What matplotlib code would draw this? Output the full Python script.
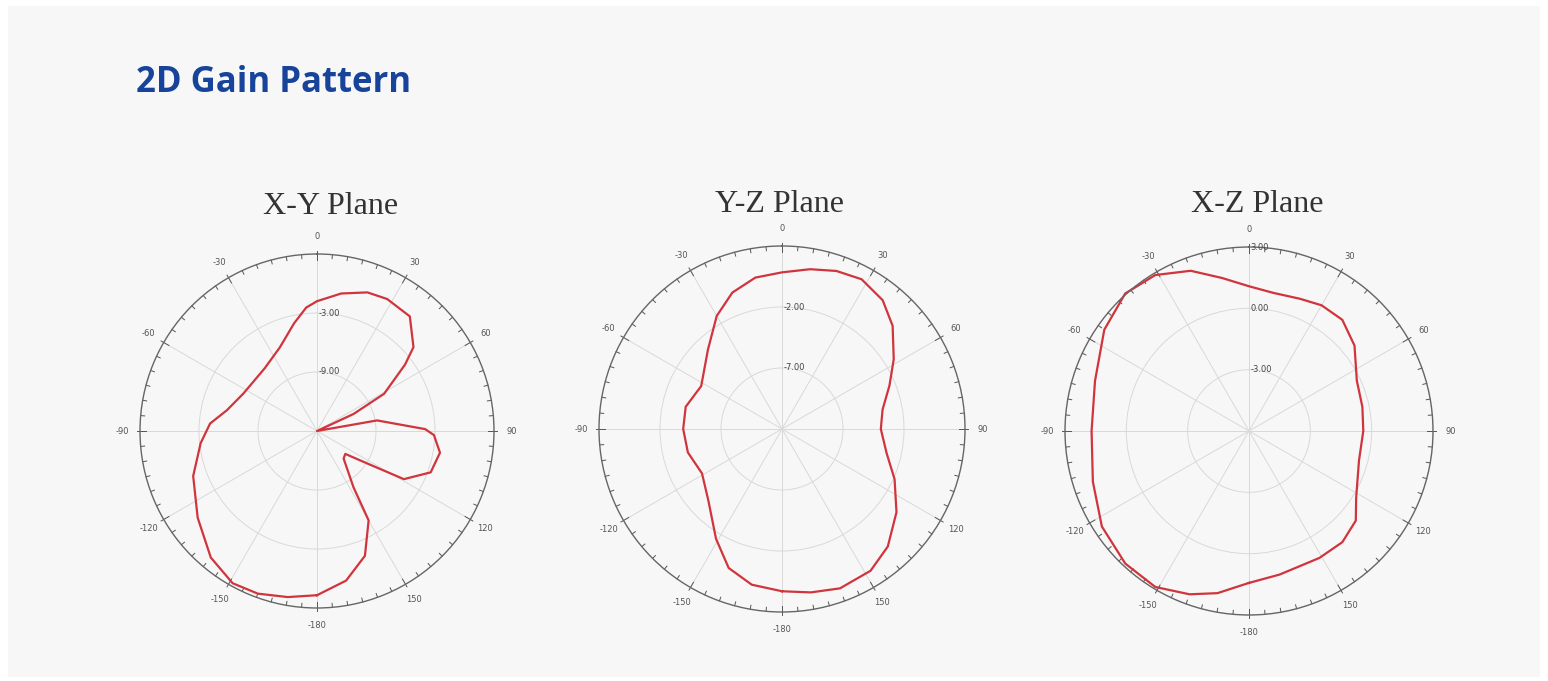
"""
2D gain pattern of an antenna in three planes (X-Y, Y-Z, X-Z).
Output: out.png
"""

import numpy as np
import matplotlib.pyplot as plt
from matplotlib.patches import Rectangle

W, H = 1548, 681

# gain readings (dB) vs angle (deg, clockwise from top)
xy_angles = [-180, -170, -160, -151, -140, -126, -110, -96, -86, -77, -63, -40, -24, -12, -5,
             0, 10, 20, 28, 39, 49, 53, 61, 65, 72, 80, 89, 92, 100, 110, 119, 123, 129, 136,
             147, 150, 159, 169, 180]
xy_gain = [1.7, 2.15, 2.6, 2.7, 1.8, 0.0, -1.6, -3.1, -4.1, -5.6, -6.6, -6.7, -5.7, -3.8, -2.4,
           -1.8, -0.8, 0.0, 0.2, 0.0, -2.0, -3.8, -7.2, -10.9, -15.0, -8.8, -4.0, -3.1, -2.3, -2.7,
           -4.9, -9.0, -11.3, -11.1, -8.2, -4.5, -1.4, 0.5, 1.7]

yz_angles = [-180, -169, -159, -149, -134, -119, -104, -90, -77, -62, -43, -30, -20, -10,
             0, 10, 19, 28, 38, 47, 58, 68, 79, 90, 103, 114, 126, 138, 148, 160, 170, 180]
yz_gain = [1.3, 1.0, 0.2, -1.5, -3.6, -4.5, -4.05, -3.9, -3.9, -4.5, -3.1, -1.3, -0.1, 0.6,
           0.84, 1.3, 1.7, 1.9, 1.4, 0.4, -1.2, -2.5, -3.6, -3.9, -3.2, -1.9, -0.4, 0.96, 1.7,
           1.9, 1.6, 1.3]

xz_angles = [-180, -169, -160, -149, -137, -123, -108, -90, -72, -55, -42, -31, -20, -10,
             0, 10, 21, 30, 40, 51, 65, 78, 90, 105, 122, 130, 140, 151, 168, 180]
xz_gain = [1.43, 2.08, 2.5, 2.9, 2.87, 2.58, 2.03, 1.7, 1.92, 2.64, 3.05, 2.9, 2.34, 1.6,
           1.08, 0.86, 0.93, 1.1, 1.1, 0.64, -0.18, -0.33, -0.41, -0.43, 0.18, 0.82, 1.1, 1.1,
           1.18, 1.43]

angle_labels = ["0", "30", "60", "90", "120", "150", "-180", "-150", "-120", "-90", "-60", "-30"]

planes = [
    # title, angles, gain, r range, ring values, ring labels, center px, radius px, title px
    ("X-Y Plane", xy_angles, xy_gain, (-15, 3), [-9, -3], ["-9.00", "-3.00"], (317, 431), 177, (331, 207)),
    ("Y-Z Plane", yz_angles, yz_gain, (-12, 3), [-7, -2], ["-7.00", "-2.00"], (782, 429), 183, (779, 205)),
    ("X-Z Plane", xz_angles, xz_gain, (-6, 3), [-3, 0, 3], ["-3.00", "0.00", "3.00"], (1249, 431), 184, (1257, 205)),
]

fig = plt.figure(figsize=(W / 100, H / 100), dpi=100)
fig.patch.set_facecolor("white")
fig.patches.append(Rectangle((8 / W, 4 / H), 1532 / W, 671 / H, transform=fig.transFigure,
                             facecolor="#f7f7f7", edgecolor="none", zorder=-10))

fig.text(136 / W, 1 - 83 / H, "2D Gain Pattern", fontsize=25, fontweight="bold",
         family="Open Sans", color="#17449a", ha="left", va="center")

for title, ang, gain, (rmin, rmax), rings, ring_labels, (cx, cy), rad, (tx, ty) in planes:
    ax = fig.add_axes([(cx - rad) / W, (H - cy - rad) / H, 2 * rad / W, 2 * rad / H],
                      projection="polar")
    ax.set_facecolor("none")
    ax.set_theta_zero_location("N")
    ax.set_theta_direction(-1)
    ax.set_ylim(rmin, rmax)

    ax.set_thetagrids(np.arange(0, 360, 30), angle_labels)
    ax.tick_params(axis="x", labelsize=6, labelcolor="#555555", pad=2)
    ax.set_yticks(rings)
    ax.set_yticklabels([])
    ax.grid(True, color="#d9d9d9", linewidth=0.7)
    ax.spines["polar"].set_color("#666666")
    ax.spines["polar"].set_linewidth(1.0)

    # tick marks round the rim: every 5 deg, longer every 30 deg
    px = (rmax - rmin) / rad
    for a in range(0, 360, 5):
        if a % 30 == 0:
            r0, r1 = rmax - 6 * px, rmax + 3 * px
        else:
            r0, r1 = rmax - 4 * px, rmax
        ax.plot([np.deg2rad(a)] * 2, [r0, r1], color="#555555", linewidth=0.7, clip_on=False)

    for r, lab in zip(rings, ring_labels):
        ax.annotate(lab, xy=(0, r), xytext=(1, 0), textcoords="offset points",
                    fontsize=6, color="#444444", ha="left", va="center")

    ax.plot(np.deg2rad(ang), gain, color="#d0343c", linewidth=1.6, clip_on=False)

    fig.text(tx / W, 1 - ty / H, title, fontsize=23, family="Liberation Serif",
             color="#333333", ha="center", va="center")

fig.savefig("out.png", dpi=100)
